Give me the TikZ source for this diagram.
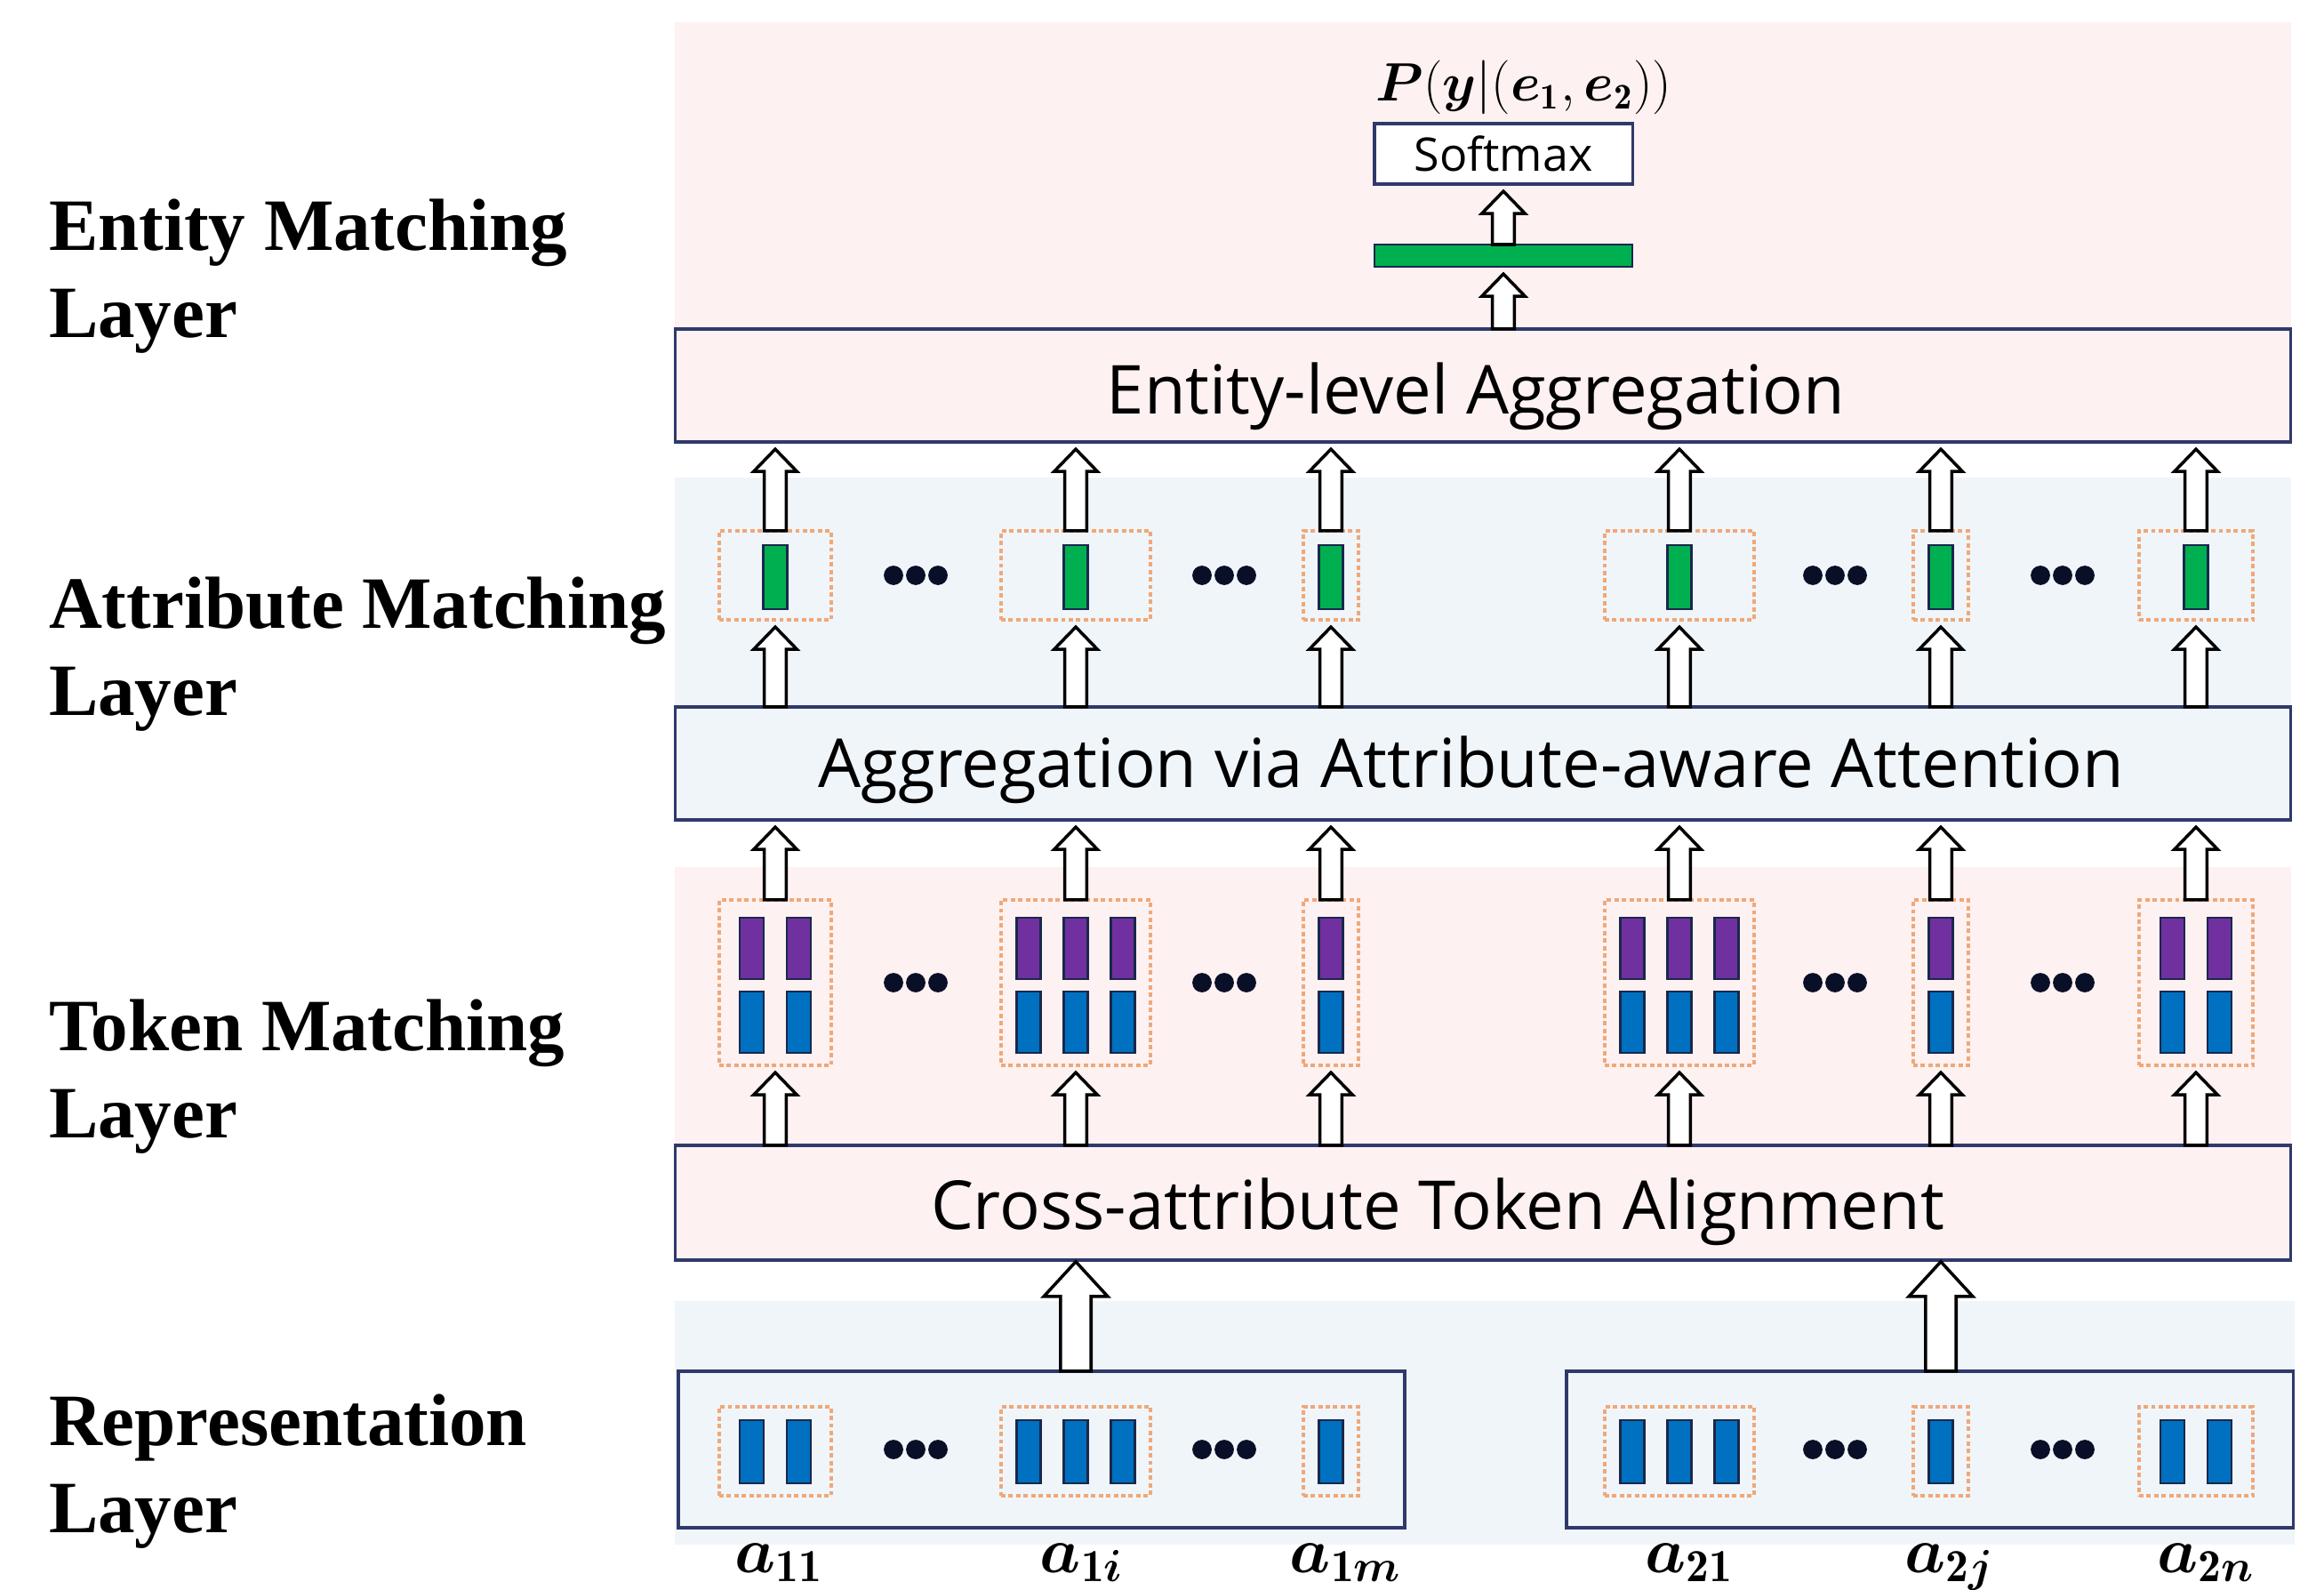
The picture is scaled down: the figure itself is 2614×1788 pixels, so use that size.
\documentclass[tikz,border=0pt]{standalone}
\usepackage{amsmath}
\usepackage{fontspec}
\newfontfamily\serifb{Liberation Serif}
\newfontfamily\sansf{Open Sans}
\usetikzlibrary{calc}
\definecolor{pinkbg}{RGB}{253,241,241}
\definecolor{bluebg}{RGB}{240,245,250}
\definecolor{navy}{RGB}{47,57,107}
\definecolor{greenc}{RGB}{0,176,80}
\definecolor{purpc}{RGB}{112,48,160}
\definecolor{bluec}{RGB}{0,112,192}
\definecolor{bard}{RGB}{25,40,75}
\definecolor{dashc}{RGB}{240,168,120}
\definecolor{dotc}{RGB}{10,15,40}
\tikzset{
  every node/.style={inner sep=0pt, outer sep=0pt},
  bigbox/.style={draw=navy, line width=1pt},
  dbox/.style={draw=dashc, dash pattern=on 1.4pt off 1pt, line width=0.9pt},
  bar/.style={draw=bard, line width=0.7pt, minimum width=0.27cm},
  boxtext/.style={font=\sansf\fontsize{21.6}{26}\selectfont},
  layerlab/.style={font=\serifb\bfseries\fontsize{23.6}{27.9}\selectfont, align=left, anchor=west},
  alab/.style={font=\fontsize{21}{24}\selectfont, anchor=base},
  harrow/.style={draw=black, fill=white, line width=1pt, line join=miter,
    to path={let \p1=(\tikztostart), \p2=(\tikztotarget) in
      (\x1-\hs,\y1) -- (\x1-\hs,\y2-\hg-\hl) -- (\x1-\hh,\y2-\hg-\hl) -- (\x1,\y2-\hg)
      -- (\x1+\hh,\y2-\hg-\hl) -- (\x1+\hs,\y2-\hg-\hl) -- (\x1+\hs,\y1) -- cycle}},
  sarr/.style={harrow, /utils/exec={\def\hs{3.5pt}\def\hh{6.9pt}\def\hl{7.1pt}\def\hg{2.3pt}}},
  barr/.style={harrow, /utils/exec={\def\hs{4.9pt}\def\hh{10.2pt}\def\hl{11.1pt}\def\hg{0.5pt}}},
}
\begin{document}
\begin{tikzpicture}[x=0.01cm,y=-0.01cm]
\useasboundingbox (0,0) rectangle (2614,1788);
% background bands
\fill[pinkbg] (759,25) rectangle (2577,497);
\fill[bluebg] (759,537) rectangle (2577,922);
\fill[pinkbg] (759,975) rectangle (2577,1417);
\fill[bluebg] (759,1463) rectangle (2581,1737);
% main boxes
\node[bigbox, fill=pinkbg, minimum width=18.16cm, minimum height=1.27cm] (ent) at (1668,433.5) {};
\node[bigbox, fill=bluebg, minimum width=18.16cm, minimum height=1.27cm] (att) at (1668,858.5) {};
\node[bigbox, fill=pinkbg, minimum width=18.16cm, minimum height=1.29cm] (cross) at (1668,1352.5) {};
\node[bigbox, fill=bluebg, minimum width=8.17cm, minimum height=1.76cm] (rep1) at (1171.5,1630) {};
\node[bigbox, fill=bluebg, minimum width=8.17cm, minimum height=1.76cm] (rep2) at (2170.5,1630) {};
\node[boxtext] (entt) at (1660,446) {Entity-level Aggregation};
\node[boxtext] (attt) at (1655,866) {Aggregation via Attribute-aware Attention};
\node[boxtext] (crosst) at (1617,1363) {Cross-attribute Token Alignment};
% top part
\node[draw=navy, fill=white, line width=0.9pt, minimum width=2.9cm, minimum height=0.68cm,
  font=\sansf\fontsize{14.8}{17}\selectfont] (soft) at (1691,173) {Softmax};
\node[draw=bard, fill=greenc, line width=0.7pt, minimum width=2.9cm, minimum height=0.25cm] (gbar) at (1691,287.5) {};
\node[font=\fontsize{16.5}{20}\selectfont] (plab) at (1714,98)
  {$\boldsymbol{P}(\boldsymbol{y}|(\boldsymbol{e}_{\mathbf{1}},\boldsymbol{e}_{\mathbf{2}}))$};
% columns
\foreach \i/\cx/\w/\n in {1/872/126/2,2/1210/168/3,3/1497/62/1,4/1889/168/3,5/2183/62/1,6/2470/128/2}{
  \node[dbox, minimum width=\w*0.01cm, minimum height=1cm] (ad\i) at (\cx,647) {};
  \node[bar, fill=greenc, minimum height=0.72cm] (ag\i) at (\cx,649) {};
  \node[dbox, minimum width=\w*0.01cm, minimum height=1.86cm] (td\i) at (\cx,1105) {};
  \node[dbox, minimum width=\w*0.01cm, minimum height=1.0cm] (rd\i) at (\cx,1632) {};
  \foreach \k in {1,...,\n}{
    \pgfmathsetmacro\bx{\cx+(\k-(\n+1)/2)*53}
    \node[bar, fill=purpc, minimum height=0.69cm] (tp\i\k) at (\bx,1066.5) {};
    \node[bar, fill=bluec, minimum height=0.69cm] (tb\i\k) at (\bx,1149.5) {};
    \node[bar, fill=bluec, minimum height=0.71cm] (rb\i\k) at (\bx,1632.5) {};
  }
  \draw[sarr] (ad\i.north) to (ent.south);
  \draw[sarr] (ad\i |- att.north) to (ad\i.south);
  \draw[sarr] (td\i.north) to (att.south);
  \draw[sarr] (td\i |- cross.north) to (td\i.south);
}
% dots
\foreach \dx in {1030,1377,2064,2320}{
  \foreach \dy in {647,1105,1630}{
    \foreach \o in {-25,0,25}{
      \fill[dotc] (\dx+\o,\dy) circle (3.1pt);
    }
  }
}
% arrows top and big
\draw[sarr] (gbar.south |- ent.north) to (gbar.south);
\draw[sarr] (gbar.north) to (soft.south);
\draw[barr] (td2 |- rep1.north) to (cross.south);
\draw[barr] (td5 |- rep2.north) to (cross.south);
% attribute labels
\node[alab] (l11) at (876,1768) {$\boldsymbol{a}_{\mathbf{11}}$};
\node[alab] (l1i) at (1217,1768) {$\boldsymbol{a}_{\mathbf{1}\boldsymbol{i}}$};
\node[alab] (l1m) at (1514,1768) {$\boldsymbol{a}_{\mathbf{1}\boldsymbol{m}}$};
\node[alab] (l21) at (1900,1768) {$\boldsymbol{a}_{\mathbf{21}}$};
\node[alab] (l2j) at (2193,1768) {$\boldsymbol{a}_{\mathbf{2}\boldsymbol{j}}$};
\node[alab] (l2n) at (2481,1768) {$\boldsymbol{a}_{\mathbf{2}\boldsymbol{n}}$};
% layer labels
\node[layerlab] (lay1) at (55,311) {Entity Matching\\Layer};
\node[layerlab] (lay2) at (55,736) {Attribute Matching\\Layer};
\node[layerlab] (lay3) at (55,1211) {Token Matching\\Layer};
\node[layerlab] (lay4) at (55,1655) {Representation\\Layer};
\end{tikzpicture}
\end{document}
